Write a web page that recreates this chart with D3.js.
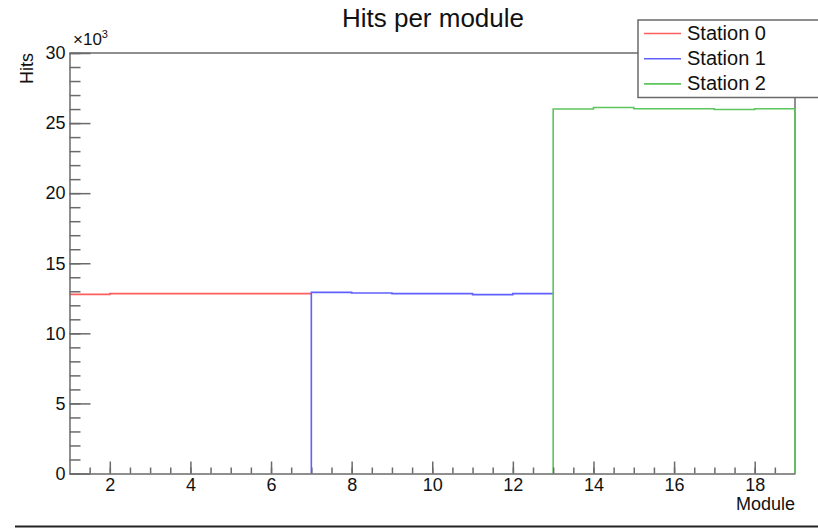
<!DOCTYPE html>
<html><head><meta charset="utf-8">
<script src="https://cdn.jsdelivr.net/npm/d3@7"></script>
<style>
html,body{margin:0;padding:0;background:#fff;}
svg{display:block;font-family:"Liberation Sans",Arial,sans-serif;}
</style></head>
<body>
<svg id="c" width="818" height="528"></svg>
<script>
// Data
const binEdges = [1,2,3,4,5,6,7,8,9,10,11,12,13,14,15,16,17,18,19];
const station0 = [12780, 12830, 12830, 12830, 12830, 12830];           // modules 1-6
const station1 = [12920, 12880, 12830, 12830, 12760, 12830];           // modules 7-12
const station2 = [26010, 26110, 26020, 26020, 25970, 26020];           // modules 13-18
const seriesNames = ["Station 0", "Station 1", "Station 2"];
const seriesStart = [1, 7, 13];
const seriesColors = ["#ff5e5e", "#6060ff", "#5cc65c"];
const xMajorTicks = [2,4,6,8,10,12,14,16,18];
const yMajorTicks = [0,5000,10000,15000,20000,25000,30000];

const svg = d3.select("#c");
const L = 69.5, R = 795, T = 53, B = 473.5;
const x = d3.scaleLinear().domain([1,19]).range([L,R]);
const y = d3.scaleLinear().domain([0,30000]).range([B,T]);
const axisColor = "#6a6a6a";
const fontAx = 18;

// Frame top and right
svg.append("line").attr("x1",L).attr("x2",R).attr("y1",T).attr("y2",T)
  .attr("stroke",axisColor).attr("stroke-width",1.5);
svg.append("line").attr("x1",R).attr("x2",R).attr("y1",T).attr("y2",B)
  .attr("stroke",axisColor).attr("stroke-width",1.5);

// Histograms (draw later series on top; skip edges hidden by axis or next series)
const allSeries = [station0, station1, station2];
allSeries.forEach((vals,i)=>{
  const s = seriesStart[i];
  const e = s + vals.length;
  const p = d3.path();
  if (x(s) > L + 1) { p.moveTo(x(s), y(0)); p.lineTo(x(s), y(vals[0])); }
  else p.moveTo(x(s), y(vals[0]));
  vals.forEach((v,j)=>{
    p.lineTo(x(s+j), y(v));
    p.lineTo(x(s+j+1), y(v));
  });
  if (i === allSeries.length - 1) p.lineTo(x(e), y(0));
  svg.append("path").attr("d",p.toString()).attr("fill","none")
    .attr("stroke",seriesColors[i]).attr("stroke-width",1.6);
});

// Y axis minor
const yMinor = d3.range(0,30001,1000);
svg.append("g").attr("transform",`translate(${L},0)`)
  .call(d3.axisLeft(y).tickValues(yMinor).tickSize(-11).tickFormat("").tickSizeOuter(0))
  .call(g=>{g.selectAll("line").attr("stroke",axisColor).attr("stroke-width",1.5);
            g.select(".domain").attr("stroke",axisColor).attr("stroke-width",1.5);});
// Y axis major
svg.append("g").attr("transform",`translate(${L},0)`)
  .call(d3.axisLeft(y).tickValues(yMajorTicks).tickSize(-21).tickPadding(4)
        .tickFormat(d=>d/1000).tickSizeOuter(0))
  .call(g=>{g.select(".domain").remove();
            g.selectAll("line").attr("stroke",axisColor).attr("stroke-width",1.5);
            g.selectAll("text").attr("font-size",fontAx).attr("fill","#111")
              .attr("font-family","Liberation Sans, Arial, sans-serif");});

// X axis minor
const xMinor = d3.range(1.5,19,0.5);
svg.append("g").attr("transform",`translate(0,${B})`)
  .call(d3.axisBottom(x).tickValues(xMinor).tickSize(-6).tickFormat("").tickSizeOuter(0))
  .call(g=>{g.selectAll("line").attr("stroke",axisColor).attr("stroke-width",1.5);
            g.select(".domain").attr("stroke",axisColor).attr("stroke-width",1.5);});
// X axis major
svg.append("g").attr("transform",`translate(0,${B})`)
  .call(d3.axisBottom(x).tickValues(xMajorTicks).tickSize(-12).tickPadding(5)
        .tickFormat(d=>d).tickSizeOuter(0))
  .call(g=>{g.select(".domain").remove();
            g.selectAll("line").attr("stroke",axisColor).attr("stroke-width",1.5);
            g.selectAll("text").attr("font-size",fontAx).attr("fill","#111")
              .attr("font-family","Liberation Sans, Arial, sans-serif");});

// Exponent label
const ex = svg.append("text").attr("x",73).attr("y",45).attr("font-size",17).attr("fill","#111");
ex.append("tspan").text("×10");
ex.append("tspan").attr("dy",-7).attr("font-size",11).text("3");

// Axis titles
svg.append("text").attr("transform","translate(32.5,53) rotate(-90)")
  .attr("text-anchor","end").attr("font-size",fontAx).attr("fill","#111").text("Hits");
svg.append("text").attr("x",R).attr("y",509.5).attr("text-anchor","end")
  .attr("font-size",fontAx).attr("fill","#111").text("Module");

// Title
svg.append("text").attr("x",433).attr("y",27).attr("text-anchor","middle")
  .attr("font-size",26).attr("fill","#111").text("Hits per module");

// Legend
const lg = svg.append("g");
lg.append("rect").attr("x",638).attr("y",20).attr("width",200).attr("height",77.5)
  .attr("fill","#fff").attr("stroke",axisColor).attr("stroke-width",1.5);
seriesNames.forEach((n,i)=>{
  const yy = 33.5 + i*25.2;
  lg.append("line").attr("x1",644).attr("x2",681).attr("y1",yy).attr("y2",yy)
    .attr("stroke",seriesColors[i]).attr("stroke-width",1.6);
  lg.append("text").attr("x",687).attr("y",yy+6).attr("font-size",20).attr("fill","#111").text(n);
});

// Bottom rule
svg.append("line").attr("x1",15).attr("x2",818).attr("y1",526.5).attr("y2",526.5)
  .attr("stroke","#222").attr("stroke-width",2);
</script>
</body></html>
